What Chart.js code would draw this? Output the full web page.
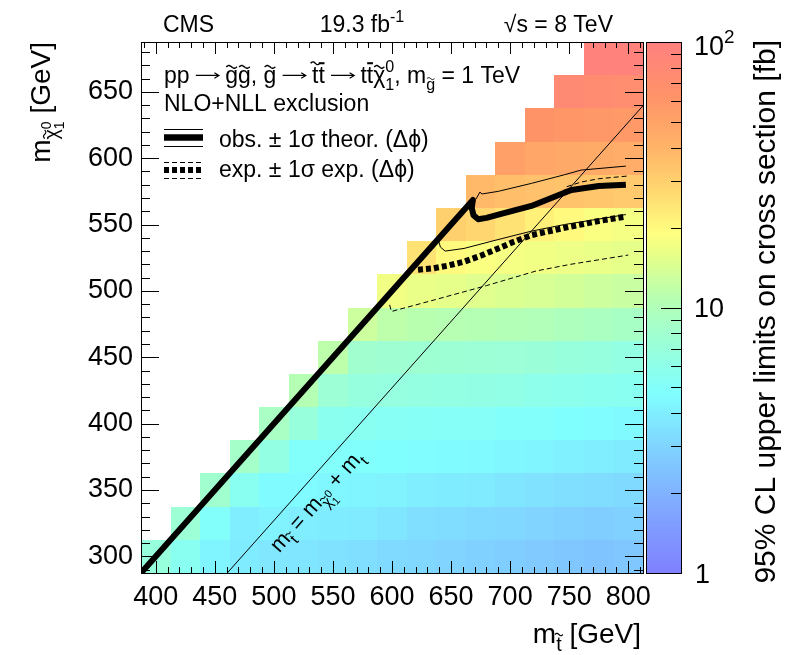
<!DOCTYPE html>
<html>
<head>
<meta charset="utf-8">
<script src="https://cdn.jsdelivr.net/npm/chart.js@4.4.0/dist/chart.umd.min.js"></script>
<style>
body { margin: 0; background: #fff; }
</style>
</head>
<body>
<canvas id="c" width="805" height="655"></canvas>
<script>
// bins (GeV)
var stopMass = [400, 425, 450, 475, 500, 525, 550, 575, 600, 625, 650, 675, 700, 725, 750, 775, 800];
var lspMass = [300, 325, 350, 375, 400, 425, 450, 475, 500, 525, 550, 575, 600, 625, 650, 675];
// 95% CL upper limit [fb], one row per lsp mass, one entry per stop mass
var limitRows = [
  [7.0, 5.5, 4.3, 3.9, 3.7, 3.6, 3.5, 3.4, 3.2, 3.1, 3.0, 2.9, 2.8, 2.7, 2.6, 2.5, 2.6],
  [null, 7.5, 5.0, 4.0, 4.2, 4.0, 3.9, 3.8, 3.6, 3.4, 3.3, 3.2, 3.1, 3.0, 2.9, 2.8, 2.9],
  [null, null, 8.0, 5.5, 4.6, 4.6, 4.4, 4.3, 4.2, 4.0, 3.9, 3.8, 3.6, 3.5, 3.4, 3.3, 3.2],
  [null, null, null, 8.5, 6.5, 5.0, 5.0, 4.9, 4.8, 4.7, 4.6, 4.5, 4.4, 4.3, 4.1, 4.0, 3.8],
  [null, null, null, null, 9.0, 7.0, 5.6, 5.5, 5.4, 5.3, 5.2, 5.2, 5.0, 5.0, 4.8, 4.7, 4.5],
  [null, null, null, null, null, 10.5, 7.5, 6.8, 6.7, 6.6, 6.5, 6.4, 6.3, 6.0, 5.8, 5.6, 5.5],
  [null, null, null, null, null, null, 11.5, 8.0, 7.8, 7.7, 7.6, 7.5, 7.4, 7.2, 7.0, 6.8, 6.5],
  [null, null, null, null, null, null, null, 13.0, 11.5, 11.0, 10.8, 10.5, 10.2, 10.0, 9.6, 9.2, 8.8],
  [null, null, null, null, null, null, null, null, 17.0, 16.0, 15.5, 15.0, 14.5, 14.0, 13.5, 13.0, 12.5],
  [null, null, null, null, null, null, null, null, null, 25, 20, 18.5, 17.5, 17, 16.5, 16, 15.5],
  [null, null, null, null, null, null, null, null, null, null, 30, 28, 25, 22, 20, 18.5, 17.5],
  [null, null, null, null, null, null, null, null, null, null, null, 38, 36, 35, 34, 33, 32],
  [null, null, null, null, null, null, null, null, null, null, null, null, 52, 48, 46, 45, 44],
  [null, null, null, null, null, null, null, null, null, null, null, null, null, 62, 60, 58, 57],
  [null, null, null, null, null, null, null, null, null, null, null, null, null, null, 78, 75, 72],
  [null, null, null, null, null, null, null, null, null, null, null, null, null, null, null, 95, 92]
];

// exclusion contours
var obsX = [388, 668.5, 667.5, 669, 673, 680, 690, 718, 746, 752, 775, 798];
var obsY = [288, 568.5, 562.5, 557, 554, 555, 557.5, 564, 574, 576, 579, 580];
var obsUpX = [671, 674.5, 676, 690, 718, 746, 760, 798];
var obsUpY = [569, 574.5, 573, 575, 581, 587.5, 591, 594];
var obsDnX = [639, 641, 645, 661, 689, 718, 746, 774, 798];
var obsDnY = [539, 533, 530, 532, 538.5, 545, 550, 554, 557.5];
var expX = [622, 635, 647, 661, 675, 690, 703, 718, 746, 774, 798];
var expY = [516, 517, 519, 522, 526.5, 532, 537, 542, 547.5, 552.5, 556];
var expUpX = [748, 760, 775, 799];
var expUpY = [578.5, 582, 584.5, 586.5];
var expDnX = [598, 599.5, 637, 680, 722, 751, 800];
var expDnY = [489.5, 484.5, 493.5, 504, 515, 520, 527];
var diagX = [460.5, 812.5];
var diagY = [287.5, 639.5];

var xTicks = [400, 450, 500, 550, 600, 650, 700, 750, 800];
var yTicks = [300, 350, 400, 450, 500, 550, 600, 650];
var zTicks = [1, 10, 100];

var FONT = '"Liberation Sans", Arial, Helvetica, sans-serif';
var binHalf = 12.5;

// pastel rainbow palette, t = log10(z)/2
var palT = [0, 0.10, 0.22, 0.34, 0.45, 0.52, 0.60, 0.64, 0.72, 0.80, 0.90, 1.0];
var palC = [[128,128,255],[128,160,255],[128,204,255],[128,255,255],[160,255,208],[184,255,176],
            [232,255,136],[255,255,128],[255,216,112],[255,180,104],[255,146,104],[255,128,128]];
function zColor(z) {
  var t = Math.log(z) / Math.LN10 / 2;
  if (t < 0) t = 0;
  if (t > 1) t = 1;
  for (var i = 1; i < palT.length; i++) {
    if (t <= palT[i]) {
      var f = (t - palT[i - 1]) / (palT[i] - palT[i - 1]);
      var a = palC[i - 1], b = palC[i];
      return 'rgb(' + Math.round(a[0] + (b[0] - a[0]) * f) + ',' + Math.round(a[1] + (b[1] - a[1]) * f) + ',' + Math.round(a[2] + (b[2] - a[2]) * f) + ')';
    }
  }
  return 'rgb(255,128,128)';
}

function pts(xa, ya) {
  return xa.map(function(x, i) { return {x: x, y: ya[i]}; });
}

function drawAccent(ctx, kind, cx, top, w, fs) {
  ctx.save();
  if (kind === '~') {
    var hw = Math.max(w * 0.42, fs * 0.2), a = fs * 0.06;
    ctx.lineWidth = Math.max(1, fs * 0.06);
    ctx.beginPath();
    for (var i = 0; i <= 14; i++) {
      var px = cx - hw + 2 * hw * i / 14;
      var py = top - a * Math.sin(2 * Math.PI * i / 14);
      if (i === 0) ctx.moveTo(px, py); else ctx.lineTo(px, py);
    }
    ctx.stroke();
  } else {
    var th = Math.max(1.5, fs * 0.09);
    ctx.fillRect(cx - w * 0.45, top - th / 2, w * 0.9, th);
  }
  ctx.restore();
}

function drawArrow(ctx, x0, x1, y, fs) {
  ctx.save();
  ctx.lineWidth = Math.max(1, fs * 0.05);
  ctx.beginPath();
  ctx.moveTo(x0, y); ctx.lineTo(x1, y);
  ctx.moveTo(x1 - fs * 0.2, y - fs * 0.12); ctx.lineTo(x1, y); ctx.lineTo(x1 - fs * 0.2, y + fs * 0.12);
  ctx.stroke();
  ctx.restore();
}

// segments: t text, f size factor, dy offset in em (down), acc accent, keep = no advance, arrow = long arrow
function drawRich(ctx, segs, x, y, size, measureOnly) {
  var cx = x;
  ctx.textAlign = 'left';
  ctx.textBaseline = 'alphabetic';
  for (var i = 0; i < segs.length; i++) {
    var s = segs[i];
    var fs = size * (s.f || 1);
    if (s.arrow) {
      if (!measureOnly) drawArrow(ctx, cx + fs * 0.27, cx + fs * 1.28, y - fs * 0.33, fs);
      cx += fs * 1.55;
      continue;
    }
    ctx.font = fs + 'px ' + FONT;
    var w = ctx.measureText(s.t).width;
    var by = y + (s.dy || 0) * size;
    if (!measureOnly) {
      ctx.fillText(s.t, cx, by);
      if (s.acc) {
        var tall = /[tbdfhkl]/.test(s.t);
        drawAccent(ctx, s.acc, cx + w / 2, by - (tall ? 0.86 : 0.7) * fs, w, fs);
      }
    }
    if (!s.keep) cx += w;
  }
  return cx - x;
}

function richWidth(ctx, segs, size) {
  return drawRich(ctx, segs, 0, 0, size, true);
}

function hline(ctx, x0, x1, y) {
  ctx.beginPath(); ctx.moveTo(x0, y); ctx.lineTo(x1, y); ctx.stroke();
}
function vline(ctx, x, y0, y1) {
  ctx.beginPath(); ctx.moveTo(x, y0); ctx.lineTo(x, y1); ctx.stroke();
}

var bgPlugin = {
  id: 'bg',
  beforeDraw: function(chart) {
    var ctx = chart.ctx;
    ctx.save();
    ctx.fillStyle = '#fff';
    ctx.fillRect(0, 0, chart.width, chart.height);
    ctx.restore();
  }
};

var heatPlugin = {
  id: 'heat',
  beforeDatasetsDraw: function(chart) {
    var ctx = chart.ctx, xs = chart.scales.x, ys = chart.scales.y;
    ctx.save();
    for (var i = 0; i < lspMass.length; i++) {
      for (var j = 0; j < stopMass.length; j++) {
        var v = limitRows[i][j];
        if (v === null) continue;
        var x0 = Math.round(xs.getPixelForValue(stopMass[j] - binHalf));
        var x1 = Math.round(xs.getPixelForValue(stopMass[j] + binHalf));
        var y0 = Math.round(ys.getPixelForValue(lspMass[i] + binHalf));
        var y1 = Math.round(ys.getPixelForValue(lspMass[i] - binHalf));
        ctx.fillStyle = zColor(v);
        ctx.fillRect(x0, y0, x1 - x0, y1 - y0);
      }
    }
    ctx.restore();
  }
};

var decorPlugin = {
  id: 'decor',
  afterDatasetsDraw: function(chart) {
    var ctx = chart.ctx, a = chart.chartArea;
    var xs = chart.scales.x, ys = chart.scales.y, zs = chart.scales.z;
    ctx.save();
    ctx.strokeStyle = '#000';
    ctx.fillStyle = '#000';
    ctx.lineWidth = 1;

    // frame ticks
    var v, p, len;
    for (v = 390; v <= 810; v += 10) {
      p = Math.round(xs.getPixelForValue(v)) + 0.5;
      len = v % 50 === 0 ? 12 : 6;
      vline(ctx, p, a.bottom, a.bottom - len);
      vline(ctx, p, a.top, a.top + len);
    }
    for (v = 290; v <= 680; v += 10) {
      p = Math.round(ys.getPixelForValue(v)) + 0.5;
      len = v % 50 === 0 ? 18 : 9;
      hline(ctx, a.left, a.left + len, p);
      hline(ctx, a.right, a.right - len, p);
    }
    ctx.strokeRect(Math.round(a.left) + 0.5, Math.round(a.top) + 0.5, Math.round(a.right - a.left), Math.round(a.bottom - a.top));

    // colour bar
    var cb0 = Math.round(a.right) + 3, cb1 = Math.round(a.right) + 38;
    for (p = Math.round(zs.top); p < Math.round(zs.bottom); p++) {
      ctx.fillStyle = zColor(zs.getValueForPixel(p + 0.5));
      ctx.fillRect(cb0, p, cb1 - cb0, 1);
    }
    ctx.fillStyle = '#000';
    ctx.strokeRect(cb0 + 0.5, Math.round(zs.top) + 0.5, cb1 - cb0, Math.round(zs.bottom - zs.top));
    for (var d = 1; d <= 10; d *= 10) {
      for (var k = 1; k <= 10; k++) {
        if (k === 10 && d === 1) continue;
        p = Math.round(zs.getPixelForValue(d * k)) + 0.5;
        len = (k === 1 || k === 10) ? 20 : 10;
        hline(ctx, cb1, cb1 - len, p);
      }
    }
    ctx.font = '27px ' + FONT;
    ctx.textBaseline = 'middle';
    ctx.textAlign = 'left';
    ctx.fillText('1', cb1 + 14, zs.getPixelForValue(zTicks[0]) + 3);
    ctx.fillText('10', cb1 + 13, zs.getPixelForValue(zTicks[1]) + 2);
    drawRich(ctx, [{t: '10'}, {t: '2', f: 0.7, dy: -0.45}], cb1 + 13, zs.getPixelForValue(zTicks[2]) + 13, 27);

    // colour bar title
    var ctitle = [{t: '95% CL upper limits on cross section [fb]'}];
    var cw = richWidth(ctx, ctitle, 30);
    ctx.save();
    ctx.translate(775, 40 + cw);
    ctx.rotate(-Math.PI / 2);
    drawRich(ctx, ctitle, 0, 0, 30);
    ctx.restore();

    // axis titles
    var xt = [{t: 'm'}, {t: 't', f: 0.7, dy: 0.3, acc: '~'}, {t: ' [GeV]'}];
    var xw = richWidth(ctx, xt, 28);
    drawRich(ctx, xt, a.right - 2 - xw, 643, 28);
    var yt = [{t: 'm'}, {t: 'χ', f: 0.7, dy: 0.3, acc: '~'}, {t: '0', f: 0.5, dy: 0.02, keep: true}, {t: '1', f: 0.5, dy: 0.5}, {t: ' [GeV]'}];
    var yw = richWidth(ctx, yt, 28);
    ctx.save();
    ctx.translate(50, a.top + yw);
    ctx.rotate(-Math.PI / 2);
    drawRich(ctx, yt, 0, 0, 28);
    ctx.restore();

    // header
    drawRich(ctx, [{t: 'CMS'}], 163, 32, 23);
    var lum = [{t: '19.3 fb'}, {t: '-1', f: 0.7, dy: -0.45}];
    drawRich(ctx, lum, 362 - richWidth(ctx, lum, 23) / 2, 32, 23);
    var en = [{t: '√s = 8 TeV'}];
    drawRich(ctx, en, 613 - richWidth(ctx, en, 23), 32, 23);

    // legend
    var l1 = [{t: 'pp'}, {arrow: true}, {t: 'g', acc: '~'}, {t: 'g', acc: '~'}, {t: ', '}, {t: 'g', acc: '~'}, {arrow: true},
              {t: 't', acc: '~'}, {t: 't', acc: '-'}, {arrow: true}, {t: 't'}, {t: 't', acc: '-'}, {t: 'χ', acc: '~'},
              {t: '0', f: 0.7, dy: -0.48, keep: true}, {t: '1', f: 0.7, dy: 0.3}, {t: ', m'},
              {t: 'g', f: 0.7, dy: 0.3, acc: '~'}, {t: ' = 1 TeV'}];
    drawRich(ctx, l1, 164, 83, 23);
    drawRich(ctx, [{t: 'NLO+NLL exclusion'}], 164, 111, 23);
    drawRich(ctx, [{t: 'obs. ± 1σ theor. (Δϕ)'}], 219, 147, 23);
    drawRich(ctx, [{t: 'exp. ± 1σ exp. (Δϕ)'}], 219, 177, 23);

    ctx.lineWidth = 1;
    hline(ctx, 164, 203, 129.5);
    hline(ctx, 164, 203, 146.5);
    ctx.lineWidth = 6.5;
    hline(ctx, 164, 203, 137.5);
    ctx.lineWidth = 1;
    ctx.setLineDash([5, 3]);
    hline(ctx, 164, 203, 162.5);
    hline(ctx, 164, 203, 178.5);
    ctx.lineWidth = 6;
    hline(ctx, 164, 203, 170);
    ctx.setLineDash([]);

    // diagonal label
    var dl = [{t: 'm'}, {t: 't', f: 0.7, dy: 0.3, acc: '~'}, {t: ' = m'}, {t: 'χ', f: 0.7, dy: 0.3, acc: '~'},
              {t: '0', f: 0.5, dy: 0.02, keep: true}, {t: '1', f: 0.5, dy: 0.5}, {t: ' + m'}, {t: 't', f: 0.7, dy: 0.3}];
    var ang = Math.atan2(ys.getPixelForValue(diagY[1]) - ys.getPixelForValue(diagY[0]),
                         xs.getPixelForValue(diagX[1]) - xs.getPixelForValue(diagX[0]));
    var dw = richWidth(ctx, dl, 22);
    ctx.save();
    ctx.translate(xs.getPixelForValue(537), ys.getPixelForValue(341));
    ctx.rotate(ang);
    drawRich(ctx, dl, -dw / 2, 22 * 0.26, 22);
    ctx.restore();

    ctx.restore();
  }
};

var lineBase = {showLine: true, pointRadius: 0, borderColor: '#000', fill: false, tension: 0, borderJoinStyle: 'round'};
function ds(xa, ya, width, dash) {
  return Object.assign({}, lineBase, {data: pts(xa, ya), borderWidth: width, borderDash: dash || []});
}

new Chart(document.getElementById('c').getContext('2d'), {
  type: 'scatter',
  data: {
    datasets: [
      ds(obsX, obsY, 6),
      ds(expX, expY, 6, [5, 3]),
      ds(obsUpX, obsUpY, 1),
      ds(obsDnX, obsDnY, 1),
      ds(expUpX, expUpY, 1, [5, 3]),
      ds(expDnX, expDnY, 1, [5, 3]),
      ds(diagX, diagY, 1)
    ]
  },
  options: {
    responsive: false,
    animation: false,
    events: [],
    layout: {padding: {left: 0, right: 162, top: 42, bottom: 0}},
    plugins: {legend: {display: false}, tooltip: {enabled: false}},
    scales: {
      x: {
        type: 'linear', min: 387.5, max: 812.5, position: 'bottom',
        afterBuildTicks: function(s) { s.ticks = xTicks.map(function(v) { return {value: v}; }); },
        afterFit: function(s) { s.height = 82; },
        grid: {display: false, drawTicks: false},
        border: {display: false},
        ticks: {color: '#000', font: {family: FONT, size: 27}, padding: 8, maxRotation: 0, autoSkip: false}
      },
      y: {
        type: 'linear', min: 287.5, max: 687.5, position: 'left',
        afterBuildTicks: function(s) { s.ticks = yTicks.map(function(v) { return {value: v}; }); },
        afterFit: function(s) { s.width = 141; },
        grid: {display: false, drawTicks: false},
        border: {display: false},
        ticks: {color: '#000', font: {family: FONT, size: 27}, padding: 8, autoSkip: false}
      },
      z: {type: 'logarithmic', min: 1, max: 100, position: 'right', display: false}
    }
  },
  plugins: [bgPlugin, heatPlugin, decorPlugin]
});
</script>
</body>
</html>
